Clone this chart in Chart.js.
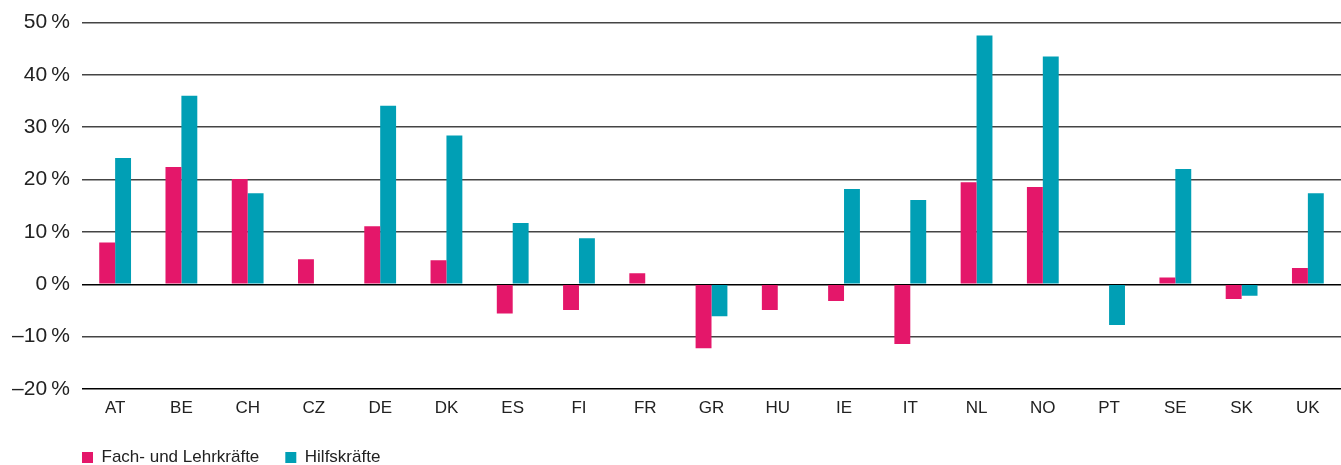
<!DOCTYPE html>
<html><head><meta charset="utf-8">
<script src="https://cdn.jsdelivr.net/npm/chart.js@4.4.1/dist/chart.umd.min.js"></script>
<style>html,body{margin:0;padding:0;background:#fff}#wrap{width:1341px;height:465px;position:relative}</style>
</head><body><div id="wrap"><canvas id="c"></canvas></div>
<script>
const categories = ["AT","BE","CH","CZ","DE","DK","ES","FI","FR","GR","HU","IE","IT","NL","NO","PT","SE","SK","UK"];
const fachLehr = [8.0,22.4,20.1,4.8,11.1,4.6,-5.6,-4.9,2.1,-12.2,-4.9,-3.2,-11.4,19.5,18.6,null,1.3,-2.8,3.1];
const hilfs = [24.1,36.0,17.4,null,34.1,28.4,11.7,8.8,null,-6.1,null,18.2,16.1,47.5,43.5,-7.8,22.0,-2.2,17.4];
const seriesNames = ["Fach- und Lehrkräfte","Hilfskräfte"];
const yTicks = [-20,-10,0,10,20,30,40,50];

const pink = "rgb(228,23,106)", teal = "rgb(0,159,181)";
const legendShift = {id:'legendShift', afterLayout(chart){ chart.legend.left = 56; chart.legend.top += 6; }};
new Chart(document.getElementById('c'), {
  type:'bar',
  data:{labels:categories, datasets:[
    {label:seriesNames[0], data:fachLehr, backgroundColor:pink},
    {label:seriesNames[1], data:hilfs, backgroundColor:teal}
  ]},
  options:{
    responsive:true, maintainAspectRatio:false, animation:false,
    categoryPercentage:0.48, barPercentage:1,
    layout:{padding:{top:10,right:0,left:0,bottom:-5}},
    plugins:{
      tooltip:{enabled:false},
      legend:{position:'bottom', align:'start',
        labels:{boxWidth:11, boxHeight:11, padding:26, color:'#222',
          font:{family:'"Liberation Sans Narrow", "Liberation Sans", sans-serif', size:17}}}
    },
    scales:{
      x:{grid:{display:false, drawTicks:false}, border:{display:false},
        ticks:{color:'#222', padding:9, font:{family:'"Liberation Sans Narrow", sans-serif', size:17}},
        afterFit(s){ s.height = 28; }},
      y:{min:-20, max:50, border:{display:false},
        afterBuildTicks(s){ s.ticks = yTicks.map(v=>({value:v})); },
        afterFit(s){ s.width = 82; },
        grid:{drawTicks:false, lineWidth:1.5, color:(ctx)=> ctx.tick && (ctx.tick.value===0||ctx.tick.value===-20) ? '#000' : '#444'},
        ticks:{color:'#222', padding:12, font:{family:'"Liberation Sans", sans-serif', size:21, lineHeight:1},
          callback:(v)=> (v<0 ? '\u2013'+Math.abs(v) : v) + '\u2009%'}}
    }
  },
  plugins:[legendShift]
});
</script></body></html>
